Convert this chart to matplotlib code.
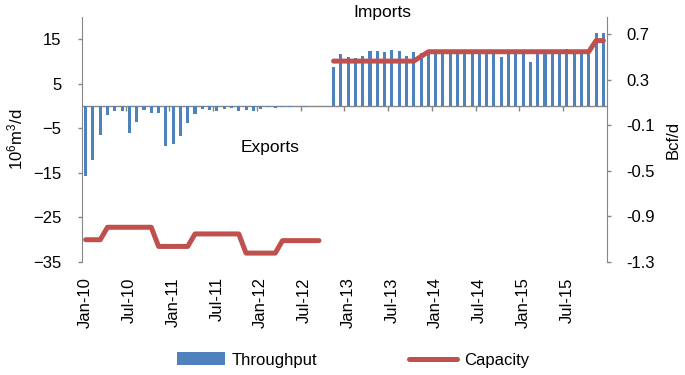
import matplotlib
matplotlib.use("Agg")
import matplotlib.pyplot as plt
import numpy as np

plt.rcParams["font.family"] = ["Liberation Sans", "DejaVu Sans"]
plt.rcParams["mathtext.fontset"] = "custom"
plt.rcParams["mathtext.rm"] = "Liberation Sans"

# --------------------------------------------------------------------------
# data (monthly, Jan-10 .. Dec-15)
# --------------------------------------------------------------------------
months = [f"{m}-{y:02d}" for y in range(10, 16)
          for m in ["Jan", "Feb", "Mar", "Apr", "May", "Jun",
                    "Jul", "Aug", "Sep", "Oct", "Nov", "Dec"]]

throughput = [
    -15.6, -12.0, -6.6, -1.9, -1.1, -1.0, -6.1, -3.5, -0.9, -1.6, -1.6, -8.9,
    -8.5, -6.7, -3.7, -1.8, -0.7, -0.9, -1.2, -0.6, -0.4, -1.0, -0.9, -1.1,
    -0.6, -0.2, -0.4, -0.1, -0.1, 0.0, -0.3, 0.0, 0.0, 0.0, 8.7, 11.6,
    11.1, 10.9, 11.3, 12.4, 12.4, 12.1, 12.5, 12.4, 11.3, 12.1, 11.9, 12.3,
    12.2, 12.2, 12.2, 12.2, 12.2, 12.2, 12.2, 12.2, 12.2, 11.0, 12.2, 12.2,
    12.2, 9.8, 12.2, 12.2, 12.2, 12.2, 12.9, 12.2, 12.7, 12.2, 16.3, 16.4,
]

nan = np.nan
capacity = [
    -30.0, -30.0, -30.0, -27.2, -27.2, -27.2, -27.2, -27.2, -27.2, -27.2, -31.5, -31.5,
    -31.5, -31.5, -31.5, -28.7, -28.7, -28.7, -28.7, -28.7, -28.7, -28.7, -33.0, -33.0,
    -33.0, -33.0, -33.0, -30.2, -30.2, -30.2, -30.2, -30.2, -30.2, nan, 10.1, 10.1,
    10.1, 10.1, 10.1, 10.1, 10.1, 10.1, 10.1, 10.1, 10.1, 10.1, 11.15, 12.2,
    12.2, 12.2, 12.2, 12.2, 12.2, 12.2, 12.2, 12.2, 12.2, 12.2, 12.2, 12.2,
    12.2, 12.2, 12.2, 12.2, 12.2, 12.2, 12.2, 12.2, 12.2, 12.2, 14.7, 14.7,
]

left_ticks = [-35, -25, -15, -5, 5, 15]
right_ticks = [-1.3, -0.9, -0.5, -0.1, 0.3, 0.7]

BLUE = "#4F81BD"
RED = "#C0504D"
GREY = "#868686"
FS = 12

# --------------------------------------------------------------------------
# plot
# --------------------------------------------------------------------------
fig = plt.figure(figsize=(6.85, 3.75), dpi=100)
ax = fig.add_axes([0.1197, 0.3013, 0.7664, 0.6534])

x = np.arange(len(months))
bars = ax.bar(x, throughput, width=0.42, color=BLUE, label="Throughput", zorder=2)
line, = ax.plot(x, capacity, color=RED, linewidth=3.6, solid_capstyle="round",
                solid_joinstyle="round", label="Capacity", zorder=3)

ax.set_xlim(-0.5, len(months) - 0.5)
ax.set_ylim(-35, 20)
ax.axhline(0, color=GREY, linewidth=1.0, zorder=1)

# tick marks sit on the zero line, between categories
ax.vlines(np.arange(5.5, len(months) - 1, 6), -1.0, 0, color=GREY, linewidth=1.0)

ax.set_xticks(x[::6])
ax.set_xticklabels(months[::6], rotation=90, fontsize=FS)
ax.tick_params(axis="x", length=0, pad=11)

ax.set_yticks(left_ticks)
ax.tick_params(axis="y", labelsize=FS, color=GREY, length=3, width=1.0, pad=12)
for s in ["top", "bottom", "right"]:
    ax.spines[s].set_visible(False)
ax.spines["left"].set_color(GREY)
ax.set_ylabel(r"$\mathregular{10^6m^3/d}$", fontsize=FS)
ax.yaxis.set_label_coords(-0.108, 0.5)

ax2 = ax.twinx()
ax2.set_ylim(-1.3, 0.85)
ax2.set_yticks(right_ticks)
ax2.set_yticklabels([f"{v:.1f}" for v in right_ticks])
ax2.tick_params(axis="y", labelsize=FS, color=GREY, length=3, width=1.0, pad=11)
for s in ["top", "bottom", "left"]:
    ax2.spines[s].set_visible(False)
ax2.spines["right"].set_color(GREY)
ax2.set_ylabel("Bcf/d", fontsize=FS)
ax2.yaxis.set_label_coords(1.112, 0.5)

ax.text(0.573, 1.02, "Imports", transform=ax.transAxes, ha="center",
        va="center", fontsize=12.5)
ax.text(0.358, 0.469, "Exports", transform=ax.transAxes, ha="center",
        va="center", fontsize=12.5)

fig.legend([bars, line], ["Throughput", "Capacity"], loc="center",
           bbox_to_anchor=(0.515, 0.04), ncol=2, frameon=False,
           fontsize=FS, handlelength=2.9, handleheight=0.8,
           handletextpad=0.4, columnspacing=5.5)

fig.savefig("out.png", dpi=100)
